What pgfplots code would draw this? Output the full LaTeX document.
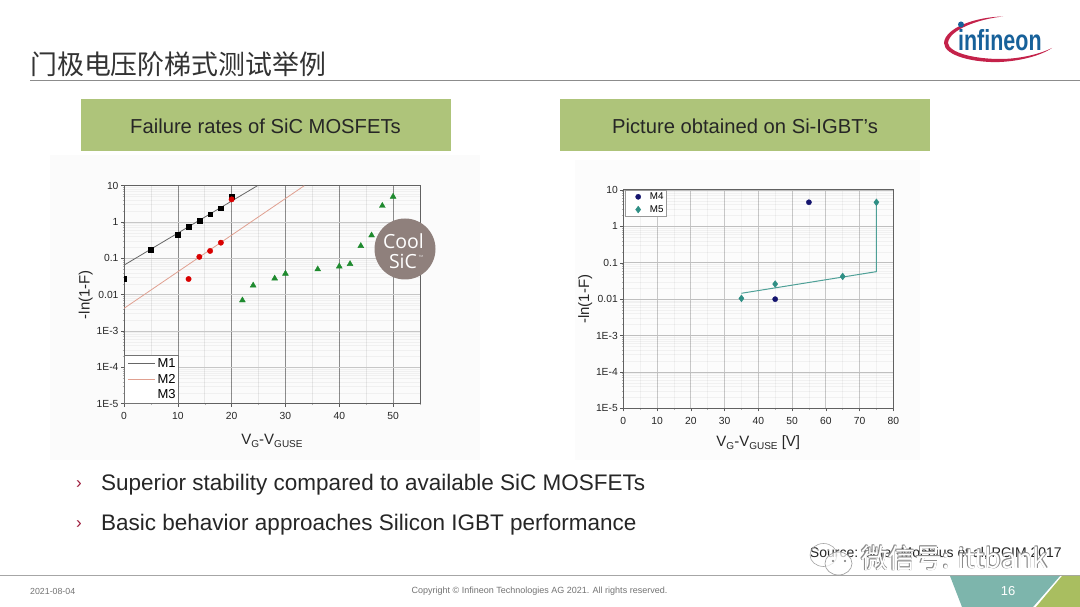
\documentclass[border=0pt]{standalone}
\usepackage{fontspec}
\setmainfont{Liberation Sans}
\newfontfamily\cjk{Noto Sans CJK SC}
\newfontfamily\opensans{Open Sans}
\usepackage{pgfplots}
\pgfplotsset{compat=1.18}
\definecolor{hdr}{HTML}{AEC47A}
\definecolor{tealb}{HTML}{7DB5AC}
\definecolor{greenb}{HTML}{A9BE60}
\definecolor{ifxred}{HTML}{C4224A}
\definecolor{ifxblue}{HTML}{17619A}
\definecolor{coolc}{HTML}{8F807C}
\definecolor{txt}{HTML}{262626}
\definecolor{mfive}{HTML}{2F8F85}
\definecolor{mfour}{HTML}{14146E}
\definecolor{mthree}{HTML}{1E8A2E}
\definecolor{mtwoline}{HTML}{E0A090}
\newcommand{\sub}[1]{\raisebox{-3.5pt}{\fontsize{10}{11}\selectfont #1}}
\pgfplotsset{
 slidechart/.style={
  scale only axis,
  ytick={1e-5,1e-4,1e-3,0.01,0.1,1,10},
  yticklabels={1E-5,1E-4,1E-3,0.01,0.1,1,10},
  minor ytick={2e-5,3e-5,4e-5,5e-5,6e-5,7e-5,8e-5,9e-5,2e-4,3e-4,4e-4,5e-4,6e-4,7e-4,8e-4,9e-4,2e-3,3e-3,4e-3,5e-3,6e-3,7e-3,8e-3,9e-3,2e-2,3e-2,4e-2,5e-2,6e-2,7e-2,8e-2,9e-2,.2,.3,.4,.5,.6,.7,.8,.9,2,3,4,5,6,7,8,9},
  grid=both,
  axis line style={draw=black!62,line width=1pt},
  tick pos=left, tick align=outside,
  major tick length=3pt, minor tick length=1.5pt,
  major tick style={draw=black!65,line width=0.5pt},
  minor tick style={draw=black!30,line width=0.4pt},
  tick label style={font=\fontsize{10.3}{11}\selectfont,text=black!85},
  xticklabel style={yshift=-2pt,/pgf/number format/assume math mode=true},
  yticklabel style={xshift=1pt},
  label style={font=\fontsize{15}{16}\selectfont,text=txt},
  ylabel style={yshift=-3pt},
 }
}
\begin{document}
\begin{tikzpicture}
\useasboundingbox (0pt,0pt) rectangle (1080pt,607pt);
\clip (0pt,0pt) rectangle (1080pt,607pt);
\fill[white] (0pt,0pt) rectangle (1080pt,607pt);
\begin{scope}[x=1pt,y={(0pt,-1pt)},yshift=607pt]
 % image panels
 \fill[black!1.5] (50,155) rectangle (480,460);
 \fill[black!1] (575,160) rectangle (920,460);
 % title and rule
 \node[anchor=west,inner sep=0pt,text=black!80] at (30,64) {\cjk\fontsize{26.9}{28}\selectfont 门极电压阶梯式测试举例};
 \draw[black!45,line width=0.7pt] (30,80.5) -- (1080,80.5);
 % headers
 \fill[hdr] (81,99) rectangle (451,151);
 \fill[hdr] (560,99) rectangle (930,151);
 \node[text=txt,inner sep=0pt] at (265.5,126.5) {\fontsize{20.2}{22}\selectfont Failure rates of SiC MOSFETs};
 \node[text=txt,inner sep=0pt] at (745,126.5) {\fontsize{20.2}{22}\selectfont Picture obtained on Si-IGBT's};
 % logo
 \fill[ifxred] (1003,16.5) .. controls (975,17) and (945,28) .. (944,43)
   .. controls (944,56) and (975,63) .. (1000,62)
   .. controls (1020,61) and (1040,56) .. (1052,48)
   .. controls (1040,54) and (1020,59) .. (1000,59)
   .. controls (975,59) and (949,53) .. (948,43)
   .. controls (949,30) and (978,19) .. (1003,16.5) -- cycle;
 \node[anchor=west,inner sep=0pt,text=ifxblue,xscale=0.74] at (958,40) {\bfseries\fontsize{29}{31}\selectfont infineon};
 \fill[ifxblue] (961,24.5) circle (3);
 % bullets
 \node[anchor=west,inner sep=0pt,text=ifxred!80!black] at (76,485) {\fontsize{17}{18}\selectfont ›};
 \node[anchor=west,inner sep=0pt,text=ifxred!80!black] at (76,525) {\fontsize{17}{18}\selectfont ›};
 \node[anchor=west,inner sep=0pt,text=txt] at (101,485) {\fontsize{22.5}{24}\selectfont Superior stability compared to available SiC MOSFETs};
 \node[anchor=west,inner sep=0pt,text=txt] at (101,525) {\fontsize{22.5}{24}\selectfont Basic behavior approaches Silicon IGBT performance};
 \node[anchor=east,inner sep=0pt,text=txt] at (1062,553) {\fontsize{14}{15}\selectfont Source: Beier-Moebius et al, PCIM 2017};
 % footer
 \draw[black!35,line width=1.2pt] (0,575.5) -- (1080,575.5);
 \fill[tealb] (950,576) -- (1060,576) -- (1033,607) -- (962,607) -- cycle;
 \fill[greenb] (1062,576) -- (1080,576) -- (1080,607) -- (1036,607) -- cycle;
 \node[text=white,inner sep=0pt] at (1008,591) {\fontsize{13}{14}\selectfont 16};
 \node[anchor=west,inner sep=0pt,text=black!55] at (30,591) {\fontsize{8.8}{10}\selectfont 2021-08-04};
 \node[inner sep=0pt,text=black!55] at (539.5,591) {\fontsize{9}{10}\selectfont Copyright © Infineon Technologies AG 2021. All rights reserved.};
\end{scope}

\begin{axis}[ymode=log, ymin=1e-5, ymax=10, slidechart,
  at={(124pt,203.3pt)}, anchor=south west, width=296pt, height=218pt,
  xmin=0, xmax=55, xtick={0,10,20,30,40,50}, minor xtick={5,15,25,35,45,55},
  x grid style={draw=black!45,line width=0.6pt},
  y grid style={draw=black!22,line width=0.9pt},
  minor x grid style={draw=black,opacity=0.08,line width=0.5pt},
  minor y grid style={draw=black,opacity=0.045,line width=0.5pt},
  xlabel={V\sub{G}-V\sub{GUSE}}, ylabel={-ln(1-F)},
  xlabel style={yshift=-7.5pt},
  legend style={at={(0,0)},anchor=south west,draw=black!55,fill=white,
    font=\fontsize{13}{14}\selectfont,inner sep=1pt,row sep=1.2pt,cells={anchor=west}},
  legend cell align=left,
  legend image code/.code={\draw[#1] (3pt,0pt) -- (30pt,0pt);},
 ]
 \addplot[black!60,line width=0.8pt] coordinates {(0,0.065) (24.8,10)};
 \addlegendentry{M1}
 \addplot[mtwoline,line width=0.8pt] coordinates {(0,0.0042) (33.5,10)};
 \addlegendentry{M2}
 \addlegendimage{empty legend}
 \addlegendentry{M3}
 \addplot[only marks,mark=square*,mark size=2.4pt,black,forget plot,clip mode=individual] coordinates {(0,0.027) (5,0.17) (10,0.45) (12,0.75) (14,1.1) (16,1.65) (18,2.4) (20,5)};
 \addplot[only marks,mark=*,mark size=2.7pt,red!85!black,forget plot] coordinates {(12,0.027) (14,0.11) (16,0.16) (18,0.27) (20,4.2)};
 \addplot[only marks,mark=triangle*,mark size=3.4pt,mthree,forget plot] coordinates {(22,0.007) (24,0.018) (28,0.028) (30,0.038) (36,0.05) (40,0.06) (42,0.07) (44,0.22) (46,0.43) (48,2.8) (50,5)};
\end{axis}

\begin{axis}[ymode=log, ymin=1e-5, ymax=10, slidechart,
  at={(623.3pt,198.7pt)}, anchor=south west, width=270pt, height=218.3pt,
  xmin=0, xmax=80, xtick={0,10,20,30,40,50,60,70,80}, minor xtick={5,15,25,35,45,55,65,75},
  x grid style={draw=black!22,line width=0.7pt},
  y grid style={draw=black!25,line width=0.8pt},
  minor x grid style={draw=black,opacity=0.045,line width=0.5pt},
  minor y grid style={draw=black,opacity=0.045,line width=0.5pt},
  xlabel={V\sub{G}-V\sub{GUSE} [V]}, ylabel={-ln(1-F)},
  xlabel style={yshift=-4.5pt},
  legend style={at={(0,1)},anchor=north west,draw=black!40,fill=white,xshift=1.5pt,
    font=\fontsize{9.8}{10}\selectfont,inner sep=0.5pt,row sep=0.5pt,cells={anchor=west}},
  legend cell align=left,
  legend image code/.code={\path (0pt,0pt) (22pt,0pt); \draw[#1] plot coordinates {(12.5pt,0pt)};},
 ]
 \addplot[only marks,mark=*,mark size=2.6pt,mfour] coordinates {(45,0.01) (55,4.6)};
 \addlegendentry{M4}
 \addplot[only marks,mark=diamond*,mark size=3.4pt,mfive] coordinates {(35,0.0105) (45,0.026) (65,0.042) (75,4.6)};
 \addlegendentry{M5}
 \addplot[mfive!85,line width=1pt,forget plot] coordinates {(35,0.0145) (75,0.057) (75,4.6)};
\end{axis}

\begin{scope}[x=1pt,y={(0pt,-1pt)},yshift=607pt]
 % CoolSiC badge
 \fill[coolc] (405,249) circle (30.5);
 \node[text=white,inner sep=0pt] at (403.5,241.5) {\opensans\fontsize{19.5}{20}\selectfont Cool};
 \node[text=white,inner sep=0pt] at (403,261) {\opensans\fontsize{19.5}{20}\selectfont SiC};
 \node[text=white!85!coolc,inner sep=0pt] at (421,256) {\fontsize{3}{3}\selectfont TM};
 % WeChat watermark
 \def\wm{\cjk\fontsize{27}{29}\selectfont 微信号: ittbank}
 \foreach \dx/\dy in {-.5/-.5,.5/-.5,-.5/.5,.5/.5}
   \node[anchor=west,inner sep=0pt,text=black!45] at (861+\dx,558+\dy) {\wm};
 \node[anchor=west,inner sep=0pt,text=white] at (861,558) {\wm};
 \draw[black!35,line width=0.6pt] (823.5,555) ellipse (13.5 and 11.5);
 \draw[black!40,fill=white,fill opacity=0.7,line width=0.6pt] (838.5,563.5) ellipse (13.5 and 11.5);
 \fill[black!55] (833,561) circle (1.1) (845,561) circle (1.1);
 \fill[black!35] (818,550) circle (1) (828,550) circle (1);
\end{scope}
\end{tikzpicture}
\end{document}
